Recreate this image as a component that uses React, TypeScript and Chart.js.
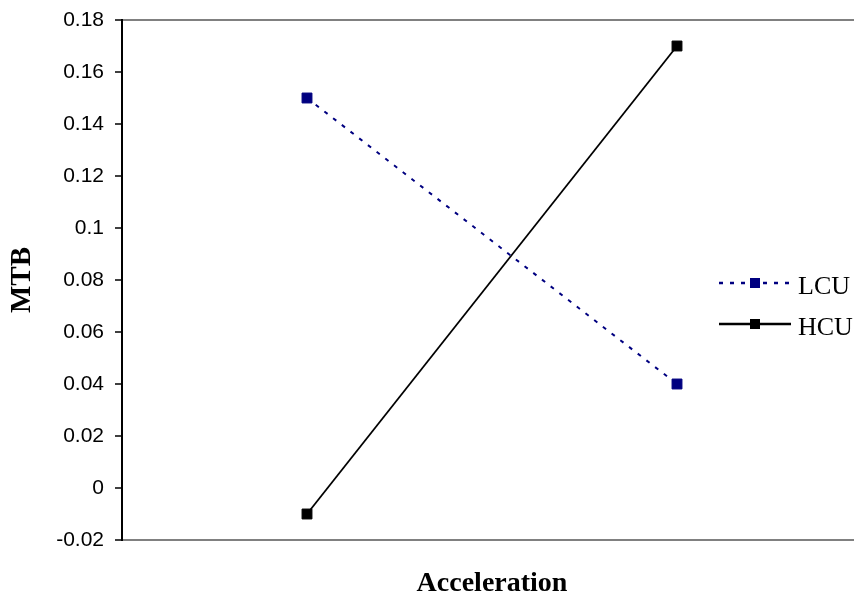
import React, { useEffect, useRef } from "react";
import { Chart, registerables } from "chart.js";

Chart.register(...registerables);

const categories = ["Low", "High"];
const seriesNames = ["LCU", "HCU"];
const lcuValues = [0.15, 0.04];
const hcuValues = [-0.01, 0.17];
const yMin = -0.02;
const yMax = 0.18;
const yStep = 0.02;
const xTitle = "Acceleration";
const yTitle = "MTB";

const SERIF = "'Liberation Serif', 'Times New Roman', serif";
const SANS = "'Liberation Sans', Arial, sans-serif";

const legendPlugin = {
  id: "customLegend",
  afterDraw(chart: any) {
    const ctx = chart.ctx;
    const rows = [283, 324];
    chart.data.datasets.forEach((ds: any, i: number) => {
      const y = rows[i];
      ctx.save();
      ctx.strokeStyle = ds.borderColor;
      ctx.lineWidth = 2.5;
      ctx.setLineDash(ds.borderDash || []);
      ctx.beginPath();
      ctx.moveTo(719, y);
      ctx.lineTo(791, y);
      ctx.stroke();
      ctx.setLineDash([]);
      ctx.fillStyle = ds.pointBackgroundColor;
      ctx.fillRect(750, y - 5, 10, 10);
      ctx.fillStyle = "#000";
      ctx.font = `26px ${SERIF}`;
      ctx.textBaseline = "alphabetic";
      ctx.textAlign = "left";
      ctx.fillText(ds.label, 798, y + 11);
      ctx.restore();
    });
  },
};

export default function App() {
  const ref = useRef<HTMLCanvasElement | null>(null);

  useEffect(() => {
    if (!ref.current) return;
    const chart = new Chart(ref.current, {
      type: "line",
      data: {
        labels: categories,
        datasets: [
          {
            label: seriesNames[0],
            data: lcuValues,
            borderColor: "#000080",
            backgroundColor: "#000080",
            borderWidth: 2,
            borderDash: [4, 7],
            pointStyle: "rect",
            pointRadius: 7,
            pointBorderWidth: 1,
            pointBorderColor: "#000080",
            pointBackgroundColor: "#000080",
            tension: 0,
          },
          {
            label: seriesNames[1],
            data: hcuValues,
            borderColor: "#000000",
            backgroundColor: "#000000",
            borderWidth: 1.8,
            pointStyle: "rect",
            pointRadius: 7,
            pointBorderWidth: 1,
            pointBorderColor: "#000000",
            pointBackgroundColor: "#000000",
            tension: 0,
          },
        ],
      },
      options: {
        responsive: false,
        animation: false,
        layout: { padding: { top: 20, left: 0, right: 4, bottom: 0 } },
        plugins: {
          legend: { display: false },
          tooltip: { enabled: false },
        },
        scales: {
          x: {
            type: "category",
            offset: true,
            grid: { display: false },
            border: { color: "#808080", width: 2 },
            ticks: { display: false },
            title: {
              display: true,
              text: xTitle,
              color: "#000",
              font: { family: SERIF, size: 28, weight: "bold" },
              padding: { top: 0, bottom: 1 },
            },
            afterFit: (scale: any) => {
              scale.height = 62;
            },
          },
          y: {
            min: yMin,
            max: yMax,
            border: { color: "#000000", width: 2 },
            grid: {
              color: (c: any) =>
                c.tick && Math.abs(c.tick.value - yMax) < 1e-9 ? "#808080" : "rgba(0,0,0,0)",
              lineWidth: 2,
              tickColor: "#000000",
              tickLength: 7,
              tickWidth: 1.5,
            },
            ticks: {
              stepSize: yStep,
              color: "#000",
              padding: 11,
              font: { family: SANS, size: 21 },
              callback: (v: any) => String(Number(Number(v).toFixed(2))),
            },
            title: {
              display: true,
              text: yTitle,
              color: "#000",
              font: { family: SERIF, size: 29, weight: "bold" },
              padding: { top: 5, bottom: 0 },
            },
            afterFit: (scale: any) => {
              scale.width = 122;
              scale.paddingTop = 0;
              scale.paddingBottom = 0;
            },
          },
        },
      },
      plugins: [legendPlugin],
    } as any);
    return () => chart.destroy();
  }, []);

  return (
    <div
      style={{
        position: "absolute",
        left: 0,
        top: 0,
        width: 854,
        height: 602,
        overflow: "hidden",
        background: "#fff",
      }}
    >
      <canvas ref={ref} width={870} height={602} style={{ width: 870, height: 602, display: "block" }} />
    </div>
  );
}
